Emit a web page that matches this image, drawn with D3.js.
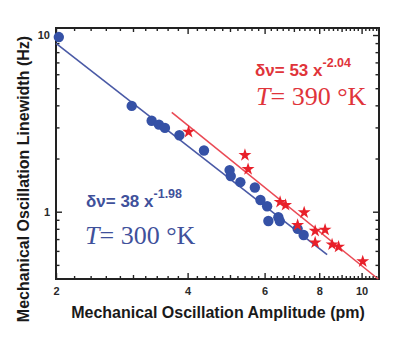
<!DOCTYPE html>
<html>
<head>
<meta charset="utf-8">
<script src="https://cdn.jsdelivr.net/npm/d3@7"></script>
<style>
  body { margin: 0; background: #fff; }
  svg { display: block; font-family: "Liberation Sans", Arial, sans-serif; }
</style>
</head>
<body>
<svg width="414" height="346"></svg>
<script>
// **** data ****
// blue circles, T = 300 K  (amplitude pm, linewidth Hz)
var blueAmp = [2.03, 2.98, 3.31, 3.44, 3.55, 3.83, 4.36, 4.99, 5.02, 5.28, 5.70, 5.87, 6.08, 6.12, 6.45, 6.50, 7.14, 7.37];
var blueWidth = [9.74, 3.97, 3.27, 3.11, 2.98, 2.71, 2.22, 1.72, 1.59, 1.47, 1.37, 1.165, 1.074, 0.886, 0.93, 0.885, 0.80, 0.738];

// red stars, T = 390 K
var redAmp = [4.02, 5.41, 5.50, 6.51, 6.70, 7.39, 7.14, 7.83, 8.25, 7.83, 8.56, 8.86, 10.06];
var redWidth = [2.83, 2.09, 1.74, 1.135, 1.09, 0.99, 0.84, 0.778, 0.79, 0.669, 0.652, 0.633, 0.523];

// fit lines (end points)
var blueFitAmp = [2.0, 8.34];
var blueFitWidth = [8.97, 0.571];
var redFitAmp = [3.68, 10.91];
var redFitWidth = [3.65, 0.416];

// ticks
var xMajor = [2, 4, 6, 8, 10];
var yMajor = [1, 10];

var svg = d3.select('svg');

var blue = '#3551a6', blueLine = '#4a5aa6', blueText = '#3f519b';
var red = '#e8202a', redLine = '#ea4a55', redText = '#e0343a';

// **** scales ****
var x = d3.scaleLog().domain([2, 10.96]).range([56, 379]);
var y = d3.scaleLog().domain([0.416, 10.96]).range([279, 28]);

// minor ticks
var xMinor = d3.range(22, 110, 2).map(d => d / 10).filter(d => xMajor.indexOf(d) < 0);
var xMid = xMinor.filter(d => d % 1 === 0);
xMinor = xMinor.filter(d => d % 1 !== 0);
var yMinor = [0.5, 0.6, 0.7, 0.8, 0.9, 2, 3, 4, 5, 6, 7, 8, 9];

function styleAxis(g) {
  g.select('.domain').remove();
  g.selectAll('line').attr('stroke', '#222').attr('stroke-width', 1.4);
  g.selectAll('text').attr('font-size', 11).attr('font-weight', 'bold').attr('fill', '#2a2a2a')
    .style('font-family', '"Liberation Sans", Arial, sans-serif');
}

// bottom + top
[[d3.axisBottom, 279, true], [d3.axisTop, 28, false]].forEach(function(a) {
  var g = svg.append('g').attr('transform', 'translate(0,' + a[1] + ')');
  g.append('g').call(a[0](x).tickValues(xMinor).tickSize(-3).tickFormat('')).call(styleAxis);
  g.append('g').call(a[0](x).tickValues(xMid).tickSize(-4).tickFormat('')).call(styleAxis);
  g.append('g').call(a[0](x).tickValues(xMajor).tickSize(-6).tickPadding(8)
    .tickFormat(a[2] ? d3.format('d') : '')).call(styleAxis);
});

// left + right
[[d3.axisLeft, 56, true], [d3.axisRight, 379, false]].forEach(function(a) {
  var g = svg.append('g').attr('transform', 'translate(' + a[1] + ',0)');
  g.append('g').call(a[0](y).tickValues(yMinor).tickSize(-3.5).tickFormat('')).call(styleAxis);
  g.append('g').call(a[0](y).tickValues(yMajor).tickSize(-6).tickPadding(6)
    .tickFormat(a[2] ? d3.format('d') : '')).call(styleAxis);
});

// frame
svg.append('rect')
  .attr('x', x.range()[0]).attr('y', y.range()[1])
  .attr('width', x.range()[1] - x.range()[0])
  .attr('height', y.range()[0] - y.range()[1])
  .attr('fill', 'none').attr('stroke', '#222').attr('stroke-width', 2);

// **** fit lines ****
var line = d3.line().x(d => x(d[0])).y(d => y(d[1]));
svg.append('path')
  .attr('d', line(d3.zip(blueFitAmp, blueFitWidth)))
  .attr('stroke', blueLine).attr('stroke-width', 1.6).attr('fill', 'none');
svg.append('path')
  .attr('d', line(d3.zip(redFitAmp, redFitWidth)))
  .attr('stroke', redLine).attr('stroke-width', 1.6).attr('fill', 'none');

// **** points ****
svg.selectAll('circle.blue')
  .data(d3.zip(blueAmp, blueWidth))
  .enter()
  .append('circle')
  .attr('class', 'blue')
  .attr('cx', d => x(d[0]))
  .attr('cy', d => y(d[1]))
  .attr('r', 5.2)
  .attr('fill', blue);

var star = d3.symbol().type(d3.symbolStar).size(52);
svg.selectAll('path.red')
  .data(d3.zip(redAmp, redWidth))
  .enter()
  .append('path')
  .attr('class', 'red')
  .attr('d', star)
  .attr('transform', d => 'translate(' + x(d[0]) + ',' + y(d[1]) + ')')
  .attr('fill', red);

// **** annotations ****
function fitLabel(px, py, coef, expo, col) {
  var t = svg.append('text').attr('x', px).attr('y', py)
    .attr('fill', col).attr('font-weight', 'bold').attr('font-size', 17);
  t.append('tspan').text('\u03b4\u03bd= ' + coef + ' x');
  t.append('tspan').attr('dy', -9).attr('font-size', 12.5).text(expo);
}
function tempLabel(px, py, temp, col) {
  var t = svg.append('text').attr('x', px).attr('y', py)
    .attr('fill', col).attr('font-size', 26)
    .style('font-family', '"Liberation Serif", "Times New Roman", serif');
  t.append('tspan').attr('font-style', 'italic').text('T');
  t.append('tspan').text('= ' + temp + ' \u00b0K');
}
fitLabel(255, 76, 53, '-2.04', redText);
tempLabel(256, 105, 390, redText);
fitLabel(86, 207, 38, '-1.98', blueText);
tempLabel(85, 244, 300, blueText);

// **** axis titles ****
svg.append('text')
  .attr('x', 218).attr('y', 318)
  .attr('text-anchor', 'middle')
  .attr('font-size', 16).attr('font-weight', 'bold').attr('fill', '#1a1a1a')
  .text('Mechanical Oscillation Amplitude (pm)');

svg.append('text')
  .attr('transform', 'translate(29,179) rotate(-90)')
  .attr('text-anchor', 'middle')
  .attr('font-size', 16).attr('font-weight', 'bold').attr('fill', '#1a1a1a')
  .text('Mechanical Oscillation Linewidth (Hz)');
</script>
</body>
</html>
